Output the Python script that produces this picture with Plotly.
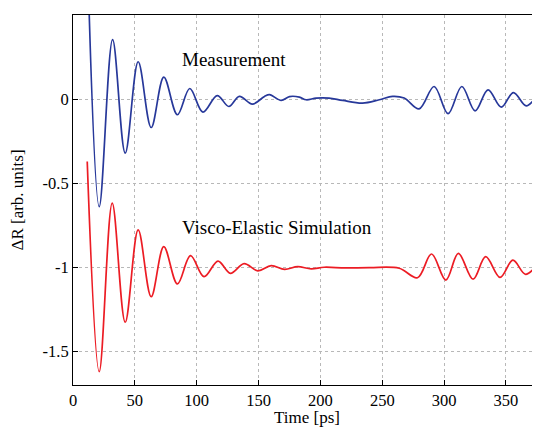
import plotly.graph_objects as go

meas_t = [12, 21.2, 32.0, 42.2, 52.7, 63.2, 73.4, 84.4, 94.4, 105.0, 116.6, 126.0,
          134.5, 145.0, 154.8, 158.9, 168.3, 175.0, 183.0, 188.5, 196.5, 207.0,
          218.0, 234.0, 247.6, 258.3, 267.7, 279.8, 291.9, 303.2, 314.3, 325.0,
          335.5, 346.2, 356.0, 366.4, 375.0]
meas_r = [0.78, -0.64, 0.353, -0.321, 0.222, -0.169, 0.131, -0.093, 0.063, -0.077, 0.021, -0.044,
          0.016, -0.03, 0.016, 0.026, -0.008, 0.015, 0.012, -0.004, 0.006, 0.006,
          -0.008, -0.024, -0.004, 0.016, 0.006, -0.058, 0.075, -0.087, 0.075, -0.07,
          0.055, -0.048, 0.039, -0.04, 0.02]

# Visco-elastic simulation trace
sim_t = [11.5, 21.2, 31.7, 42.2, 52.7, 63.2, 73.4, 84.4, 95.0, 105.9, 117.2, 127.2,
         138.3, 149.4, 160.2, 171.0, 181.7, 192.5, 203.0, 220.0, 240.0, 263.7,
         278.5, 289.8, 301.4, 311.5, 323.4, 333.6, 345.2, 355.6, 365.9, 376.6]
sim_r = [-0.371, -1.621, -0.619, -1.327, -0.778, -1.175, -0.877, -1.099, -0.931, -1.056, -0.963, -1.036,
         -0.978, -1.021, -0.99, -1.012, -0.996, -1.01, -1.0, -1.004, -1.002, -1.006,
         -1.062, -0.921, -1.076, -0.917, -1.071, -0.937, -1.06, -0.958, -1.042, -0.97]

x_ticks = [0, 50, 100, 150, 200, 250, 300, 350]
y_ticks = [0.5, 0, -0.5, -1, -1.5]
y_tick_text = ["0.5", "0", "-0.5", "-1", "-1.5"]

serif = "Liberation Serif"

fig = go.Figure()

fig.add_trace(go.Scatter(
    x=meas_t, y=meas_r, mode="lines", name="Measurement",
    line=dict(color="#27389a", width=1.7, shape="spline", smoothing=1.0),
))
fig.add_trace(go.Scatter(
    x=sim_t, y=sim_r, mode="lines", name="Visco-Elastic Simulation",
    line=dict(color="#ec1c24", width=1.7, shape="spline", smoothing=1.0),
))

fig.add_annotation(x=130, y=0.234, text="Measurement", showarrow=False,
                   font=dict(family=serif, size=19, color="black"))
fig.add_annotation(x=164.5, y=-0.766, text="Visco-Elastic Simulation", showarrow=False,
                   font=dict(family=serif, size=19, color="black"))

# x axis title placed by hand so it sits just under the tick labels
fig.add_annotation(x=0.5, xref="paper", y=0, yref="paper", yanchor="top",
                   yshift=-21, text="Time [ps]", showarrow=False,
                   font=dict(family=serif, size=17, color="black"))

axis_common = dict(
    showline=True, linecolor="black", linewidth=1, mirror=True,
    ticks="inside", ticklen=5, tickcolor="black",
    showgrid=True, gridcolor="#b8b8b8", griddash="dot", gridwidth=1,
    zeroline=False,
    tickfont=dict(family=serif, size=16.5, color="black"),
)

fig.update_xaxes(range=[0, 377.5], tickvals=x_ticks, ticklabelstandoff=0, **axis_common)
fig.update_yaxes(
    range=[-1.7, 0.5], tickvals=y_ticks, ticktext=y_tick_text,
    title=dict(text="ΔR [arb. units]", font=dict(family=serif, size=17, color="black"), standoff=14),
    **axis_common,
)

# page body has an 8px margin, so the figure is drawn 8px down/right
fig.update_layout(
    width=532, height=419,
    margin=dict(l=65, r=0, t=7, b=42),
    font=dict(family=serif, size=17, color="black"),
    plot_bgcolor="white", paper_bgcolor="white",
    showlegend=False,
)

fig.write_html("out.html")
